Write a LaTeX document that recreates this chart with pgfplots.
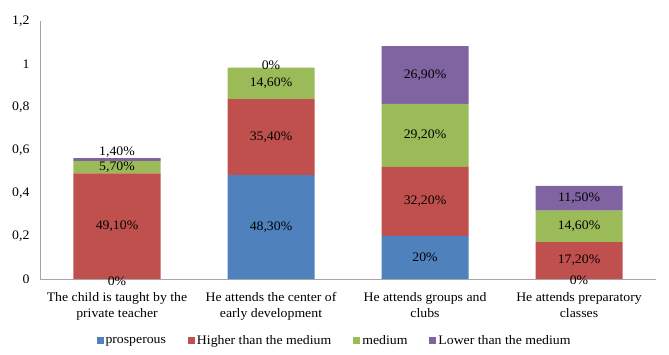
\documentclass[border=0pt]{standalone}
\usepackage{pgfplots}
\pgfplotsset{compat=1.18}
\usepackage{fontspec}
\setmainfont{Liberation Serif}[FakeStretch=1.06]
\definecolor{cBlue}{HTML}{4F81BD}
\definecolor{cRed}{HTML}{C0504D}
\definecolor{cGreen}{HTML}{9BBB59}
\definecolor{cPurple}{HTML}{8064A2}
\begin{document}
\fontsize{13}{15.5}\selectfont
\begin{tikzpicture}
\path[use as bounding box] (-40pt,-76pt) rectangle (629pt,279pt);
\pgfplotsset{
  common/.style={
    scale only axis, width=616pt, height=258pt,
    xmin=-0.5, xmax=3.5, ymin=0, ymax=1.2,
    font=\fontsize{13}{15.5}\selectfont,
  }
}
\begin{axis}[common,
  ybar stacked, bar width=87pt,
  axis x line*=bottom, axis y line*=left,
  axis line style={draw=black!35, -},
  major tick length=0pt,
  xtick={0,1,2,3},
  xticklabels={{The child is taught by the\\private teacher},{He attends the center of\\early development},{He attends groups and\\clubs},{He attends preparatory\\classes}},
  xticklabel style={align=center, yshift=-9pt},
  ytick={0,0.2,0.4,0.6,0.8,1,1.2},
  yticklabel style={xshift=-6pt},
  /pgf/number format/use comma,
  /pgf/number format/assume math mode=true,
  legend style={draw=none, at={(294.5pt,-62pt)}, anchor=center, legend columns=4,
    /tikz/every even column/.append style={column sep=20pt},
    font=\fontsize{13}{15.5}\selectfont},
  legend cell align=left,
  legend image code/.code={\fill[#1] (0pt,-3pt) rectangle (7pt,4pt);},
]
\addplot[fill=cBlue, draw=none] coordinates {(0,0) (1,0.483) (2,0.20) (3,0)};
\addlegendentry{prosperous}
\addplot[fill=cRed, draw=none] coordinates {(0,0.491) (1,0.354) (2,0.322) (3,0.172)};
\addlegendentry{Higher than the medium}
\addplot[fill=cGreen, draw=none] coordinates {(0,0.057) (1,0.146) (2,0.292) (3,0.146)};
\addlegendentry{medium}
\addplot[fill=cPurple, draw=none] coordinates {(0,0.014) (1,0) (2,0.269) (3,0.115)};
\addlegendentry{Lower than the medium}
\end{axis}
\begin{axis}[common, hide axis, clip=false]
\addplot[only marks, mark=none, nodes near coords, point meta=explicit symbolic,
  every node near coord/.style={anchor=center, text=black, inner sep=0pt,
    font=\fontsize{13}{15.5}\selectfont}]
  coordinates {
    (0,-0.01) [0\%] (0,0.2455) [49,10\%] (0,0.5195) [5,70\%] (0,0.59) [1,40\%]
    (1,0.2415) [48,30\%] (1,0.66) [35,40\%] (1,0.91) [14,60\%] (1,0.995) [0\%]
    (2,0.10) [20\%] (2,0.361) [32,20\%] (2,0.668) [29,20\%] (2,0.9485) [26,90\%]
    (3,-0.005) [0\%] (3,0.086) [17,20\%] (3,0.245) [14,60\%] (3,0.3755) [11,50\%]
  };
\end{axis}
\end{tikzpicture}
\end{document}
